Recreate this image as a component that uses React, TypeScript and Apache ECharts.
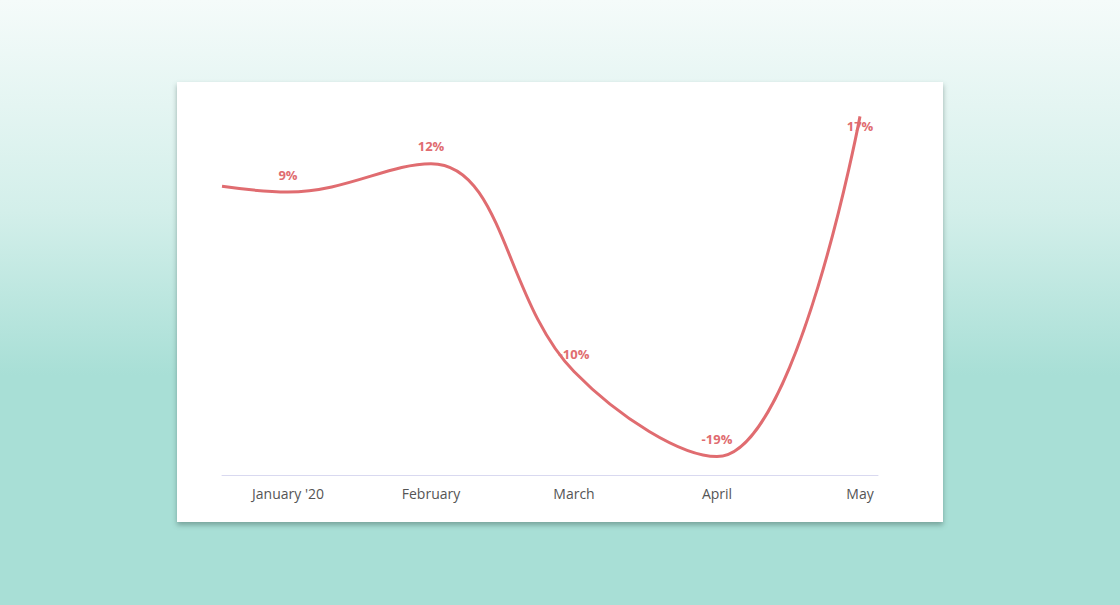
import React, { useEffect, useRef } from "react";
import * as echarts from "echarts";

const categories = ["January '20", "February", "March", "April", "May"];
const values = [9, 12, -10, -19, 17];
// lead-in of the curve, drawn left of the first month
const leadIn = [[-0.4615, 9.6]];
const xMin = -0.4615;
const xMax = 4.126;
const yMin = -21;
const yMax = 19;

const LINE = "#e06c70";

export default function App() {
  const ref = useRef<HTMLDivElement>(null);
  useEffect(() => {
    if (!ref.current) return;
    const chart = echarts.init(ref.current, undefined, { renderer: "svg" });
    const data: any[] = [
      ...leadIn.map((p) => ({ value: p, label: { show: false } })),
      ...values.map((v, i) => ({
        value: [i, v],
        label: i === values.length - 1 ? { show: true, position: "bottom", distance: 3 } : { show: true },
      })),
    ];
    chart.setOption({
      animation: false,
      grid: { left: 45, right: 65, top: 15.5, bottom: 46.5 },
      xAxis: {
        type: "value",
        min: xMin,
        max: xMax,
        axisLine: { show: true, onZero: false, lineStyle: { color: "#d9d9f0", width: 1 } },
        axisTick: { show: false },
        splitLine: { show: false },
        axisLabel: {
          customValues: categories.map((_, i) => i),
          formatter: (v: number) => categories[Math.round(v)] ?? "",
          color: "#555",
          fontSize: 14,
          fontFamily: "Open Sans",
          margin: 11,
        },
      },
      yAxis: {
        type: "value",
        min: yMin,
        max: yMax,
        show: false,
        splitLine: { show: false },
      },
      series: [
        {
          type: "line",
          data,
          smooth: 0.4,
          symbol: "circle",
          symbolSize: 0,
          showSymbol: true,
          showAllSymbol: true,
          itemStyle: { color: LINE },
          clip: false,
          lineStyle: { color: LINE, width: 3 },
          label: {
            show: true,
            position: "top",
            distance: 11,
            color: LINE,
            fontSize: 13,
            fontWeight: "bold",
            fontFamily: "Open Sans",
            formatter: (p: any) => p.value[1] + "%",
          },
        },
      ],
    });
    return () => chart.dispose();
  }, []);

  return (
    <div
      style={{
        position: "absolute",
        left: 0,
        top: 0,
        width: 1120,
        height: 605,
        background: "linear-gradient(to bottom, #f5fbfa 0%, #d3efea 35%, #a8dfd6 62%, #a8dfd6 100%)",
      }}
    >
      <div
        style={{
          position: "absolute",
          left: 177,
          top: 82,
          width: 766,
          height: 440,
          background: "#ffffff",
          boxShadow: "0 3px 5px rgba(60,90,85,0.45)",
        }}
      >
        <div ref={ref} style={{ width: 766, height: 440 }} />
      </div>
    </div>
  );
}
